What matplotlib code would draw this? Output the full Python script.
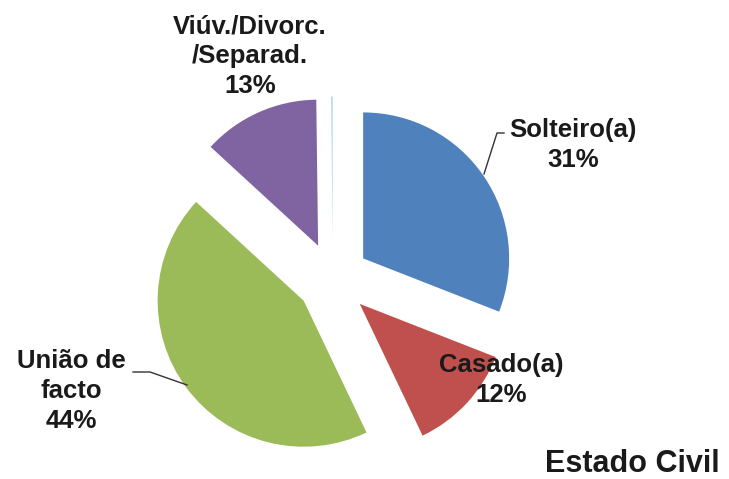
import matplotlib.pyplot as plt

categorias = ["Solteiro(a)", "Casado(a)", "União de\nfacto", "Viúv./Divorc.\n/Separad.", "Outro"]
valores = [31, 12, 44, 13, 0.2]
percent = ["31%", "12%", "44%", "13%", ""]
cores = ["#4F81BD", "#C0504D", "#9BBB59", "#8064A2", "#B7DEE8"]

W, H = 729, 479
cx, cy, R = 333, 279, 146   # centro e raio do bolo em pixeis

plt.rcParams['font.family'] = ['Liberation Sans', 'DejaVu Sans']

fig = plt.figure(figsize=(W / 100, H / 100), dpi=100)
ax = fig.add_axes([0, 0, 1, 1])
ax.pie(valores, colors=cores, startangle=90, counterclock=False,
       explode=[0.25] * len(valores), radius=1,
       wedgeprops=dict(linewidth=0))
ax.set_xlim(-cx / R, (W - cx) / R)
ax.set_ylim(-(H - cy) / R, cy / R)
ax.set_aspect('auto')
ax.axis('off')


def fp(x, y):
	return x / W, 1 - y / H


estilo = dict(fontsize=18.5, fontweight='bold', color='#1a1a1a', ha='center',
              va='baseline')

# posicoes dos rotulos (pixeis)
pos = [(573, 137), (501, 372), (71, 368), (250, 33)]
for i, (x, y) in enumerate(pos):
	linhas = categorias[i].split("\n") + [percent[i]]
	for k, t in enumerate(linhas):
		fig.text(*fp(x, y + 30 * k), t, **estilo)

# linhas de chamada
def chamada(pts):
	xs = [p[0] / W for p in pts]
	ys = [1 - p[1] / H for p in pts]
	fig.add_artist(plt.Line2D(xs, ys, color='#333333', lw=1))

chamada([(504, 133), (497, 133), (484, 174)])
chamada([(133, 372), (150, 372), (187, 385)])

fig.text(*fp(545, 472), "Estado Civil", fontsize=22, fontweight='bold',
         color='#1a1a1a', ha='left', va='baseline')

fig.savefig("out.png", dpi=100)
